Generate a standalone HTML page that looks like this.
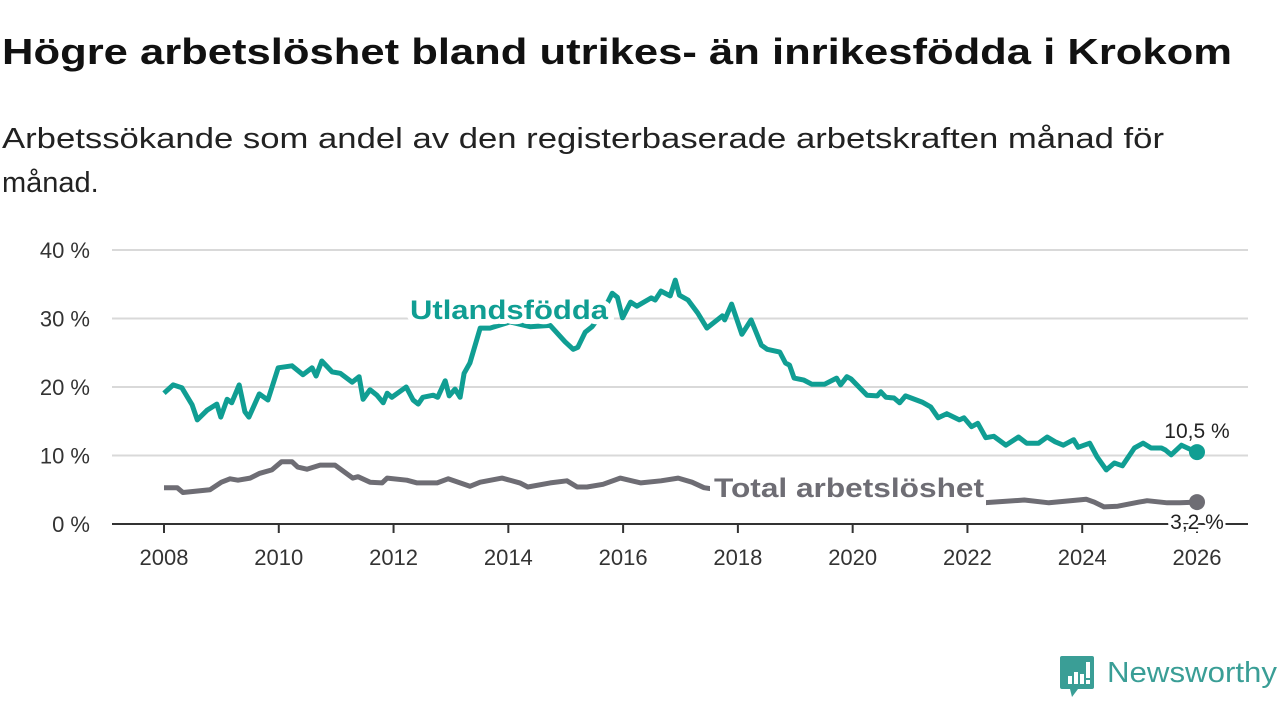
<!DOCTYPE html>
<html><head><meta charset="utf-8"><style>
body{margin:0;background:#fff;width:1280px;height:720px;overflow:hidden;font-family:"Liberation Sans",sans-serif}
</style></head><body>
<svg id="chart" width="1280" height="720" xmlns="http://www.w3.org/2000/svg" font-family="Liberation Sans, sans-serif">
<text x="2" y="64" font-size="36" font-weight="bold" fill="#111" textLength="1230" lengthAdjust="spacingAndGlyphs">Högre arbetslöshet bland utrikes- än inrikesfödda i Krokom</text>
<text x="2" y="148" font-size="29" fill="#222" textLength="1162" lengthAdjust="spacingAndGlyphs">Arbetssökande som andel av den registerbaserade arbetskraften månad för</text>
<text x="2" y="192" font-size="29" fill="#222">månad.</text>
<g id="grid"></g>
<g id="xaxis"></g>
<g id="series"></g>
<g id="labels"></g>
<g>
<path d="M1062,656 h30 a2,2 0 0 1 2,2 v29 a2,2 0 0 1 -2,2 h-14 l-6,8 l-2,-8 h-8 a2,2 0 0 1 -2,-2 v-29 a2,2 0 0 1 2,-2z" fill="#3a9e96"/>
<rect x="1068" y="676" width="4" height="8" fill="#fff"/><rect x="1074" y="672" width="4" height="12" fill="#fff"/><rect x="1080" y="674" width="4" height="10" fill="#fff"/><rect x="1086" y="662" width="4" height="16" fill="#fff"/><rect x="1086" y="680" width="4" height="4" fill="#fff"/>
<text x="1107" y="682" font-size="29" fill="#3a9e96" textLength="170" lengthAdjust="spacingAndGlyphs">Newsworthy</text>
</g>
</svg>
<script>
const utlT=[2008.0,2008.16,2008.31,2008.49,2008.58,2008.75,2008.92,2008.99,2009.10,2009.18,2009.31,2009.41,2009.48,2009.66,2009.81,2009.99,2010.23,2010.42,2010.58,2010.65,2010.75,2010.93,2011.07,2011.28,2011.40,2011.47,2011.59,2011.71,2011.82,2011.89,2011.97,2012.22,2012.34,2012.43,2012.51,2012.69,2012.77,2012.90,2012.97,2013.07,2013.16,2013.23,2013.33,2013.51,2013.68,2014.03,2014.38,2014.73,2014.99,2015.13,2015.21,2015.34,2015.46,2015.65,2015.81,2015.90,2015.99,2016.13,2016.24,2016.49,2016.56,2016.66,2016.82,2016.91,2016.98,2017.13,2017.30,2017.46,2017.73,2017.77,2017.89,2018.07,2018.23,2018.41,2018.51,2018.73,2018.83,2018.90,2018.98,2019.15,2019.29,2019.51,2019.72,2019.79,2019.90,2019.97,2020.25,2020.43,2020.49,2020.58,2020.72,2020.82,2020.92,2021.21,2021.36,2021.49,2021.64,2021.86,2021.94,2022.07,2022.18,2022.32,2022.46,2022.67,2022.89,2023.03,2023.24,2023.39,2023.53,2023.67,2023.85,2023.93,2024.13,2024.26,2024.42,2024.56,2024.70,2024.91,2025.06,2025.20,2025.38,2025.45,2025.55,2025.73,2025.88,2026.0];
const utlV=[19.1,20.3,19.9,17.4,15.2,16.6,17.5,15.6,18.2,17.7,20.3,16.4,15.6,19.0,18.1,22.8,23.1,21.8,22.8,21.6,23.8,22.2,22.0,20.7,21.5,18.2,19.6,18.8,17.7,19.1,18.5,20.0,18.1,17.5,18.5,18.8,18.5,20.9,18.7,19.7,18.5,22.0,23.5,28.6,28.6,29.5,28.8,29.0,26.6,25.5,25.8,28.0,28.8,31.0,33.7,33.1,30.1,32.4,31.8,33.0,32.7,34.0,33.3,35.6,33.4,32.7,30.8,28.6,30.4,29.8,32.1,27.7,29.8,26.1,25.5,25.1,23.5,23.2,21.3,21.0,20.4,20.4,21.3,20.3,21.5,21.2,18.8,18.7,19.3,18.5,18.4,17.7,18.7,17.8,17.1,15.5,16.1,15.2,15.5,14.2,14.7,12.6,12.8,11.5,12.7,11.8,11.8,12.7,12.0,11.5,12.3,11.2,11.8,9.8,7.9,8.9,8.5,11.1,11.8,11.1,11.1,10.8,10.1,11.5,10.9,10.5];
const totT=[2008.0,2008.23,2008.33,2008.8,2009.0,2009.15,2009.29,2009.5,2009.67,2009.88,2010.05,2010.23,2010.33,2010.49,2010.72,2010.98,2011.29,2011.38,2011.59,2011.80,2011.89,2012.23,2012.41,2012.76,2012.95,2013.33,2013.51,2013.89,2014.20,2014.34,2014.73,2015.02,2015.20,2015.37,2015.65,2015.95,2016.31,2016.66,2016.96,2017.20,2017.41,2017.58,2018.5,2019.5,2020.5,2021.5,2022.29,2022.99,2023.42,2024.07,2024.21,2024.38,2024.62,2024.99,2025.13,2025.48,2025.70,2026.0];
const totV=[5.3,5.3,4.6,5.0,6.1,6.6,6.4,6.7,7.4,7.9,9.1,9.1,8.3,8.0,8.6,8.6,6.7,6.9,6.1,6.0,6.7,6.4,6.0,6.0,6.6,5.5,6.1,6.7,6.0,5.4,6.0,6.3,5.4,5.4,5.8,6.7,6.0,6.3,6.7,6.1,5.3,5.1,4.5,4.0,5.5,4.0,3.1,3.5,3.1,3.6,3.2,2.5,2.6,3.2,3.4,3.1,3.1,3.2];
const yTicks=[0,10,20,30,40];
const yTickLabels=["0 %","10 %","20 %","30 %","40 %"];
const xTicks=[2008,2010,2012,2014,2016,2018,2020,2022,2024,2026];
const lastLabels=["10,5 %","3,2 %"];

const NS="http://www.w3.org/2000/svg";
const X=t=>164+(t-2008)*(1197-164)/18;
const Y=v=>524-v*(524-250)/40;
function mk(tag,attrs,parent,txt){const e=document.createElementNS(NS,tag);for(const k in attrs)e.setAttribute(k,attrs[k]);if(txt!==undefined)e.textContent=txt;document.getElementById(parent).appendChild(e);return e;}
yTicks.forEach((v,i)=>{
  if(v>0){const g=mk('line',{x1:112,x2:1248,y1:Y(v),y2:Y(v),stroke:'#d9d9d9','stroke-width':2},'grid');
  
  }
  const l=mk('text',{x:90,y:Y(v)+8,'font-size':22,fill:'#333','text-anchor':'end'},'grid',yTickLabels[i]);
  
  
});
const base=mk('line',{x1:112,x2:1248,y1:Y(0),y2:Y(0),stroke:'#333','stroke-width':2},'xaxis');


xTicks.forEach(t=>{
  const tk=mk('line',{x1:X(t),x2:X(t),y1:Y(0),y2:Y(0)+9,stroke:'#333','stroke-width':2},'xaxis');
  
  
  const l=mk('text',{x:X(t),y:565,'font-size':22,fill:'#333','text-anchor':'middle'},'xaxis',String(t));
  
  
});
function path(T,V){return T.map((t,i)=>(i?'L':'M')+X(t).toFixed(1)+','+Y(V[i]).toFixed(1)).join(' ');}
const pt=mk('path',{d:path(totT,totV),fill:'none',stroke:'#6e6d74','stroke-width':5,'stroke-linejoin':'round'},'series');


const pu=mk('path',{d:path(utlT,utlV),fill:'none',stroke:'#109e93','stroke-width':5,'stroke-linejoin':'round'},'series');


const du=mk('circle',{cx:X(utlT[utlT.length-1]),cy:Y(utlV[utlV.length-1]),r:8,fill:'#109e93'},'series');


const dt=mk('circle',{cx:X(totT[totT.length-1]),cy:Y(totV[totV.length-1]),r:8,fill:'#6e6d74'},'series');


const lu=mk('text',{x:410,y:319,'font-size':27,'font-weight':'bold',fill:'#109e93',stroke:'#fff','stroke-width':10,'paint-order':'stroke','stroke-linejoin':'round',textLength:198,lengthAdjust:'spacingAndGlyphs'},'labels','Utlandsfödda');


const bg=mk('rect',{x:710,y:470,width:276,height:38,fill:'#fff'},'labels');


const lt=mk('text',{x:714,y:497,'font-size':27,'font-weight':'bold',fill:'#6e6d74',textLength:270,lengthAdjust:'spacingAndGlyphs'},'labels','Total arbetslöshet');


const v1=mk('text',{x:1197,y:438,'font-size':21,fill:'#222','text-anchor':'middle',stroke:'#fff','stroke-width':5,'paint-order':'stroke'},'labels',lastLabels[0]);


const v2=mk('text',{x:1197,y:529,'font-size':21,fill:'#222','text-anchor':'middle',stroke:'#fff','stroke-width':5,'paint-order':'stroke'},'labels',lastLabels[1]);


</script>
</body></html>
